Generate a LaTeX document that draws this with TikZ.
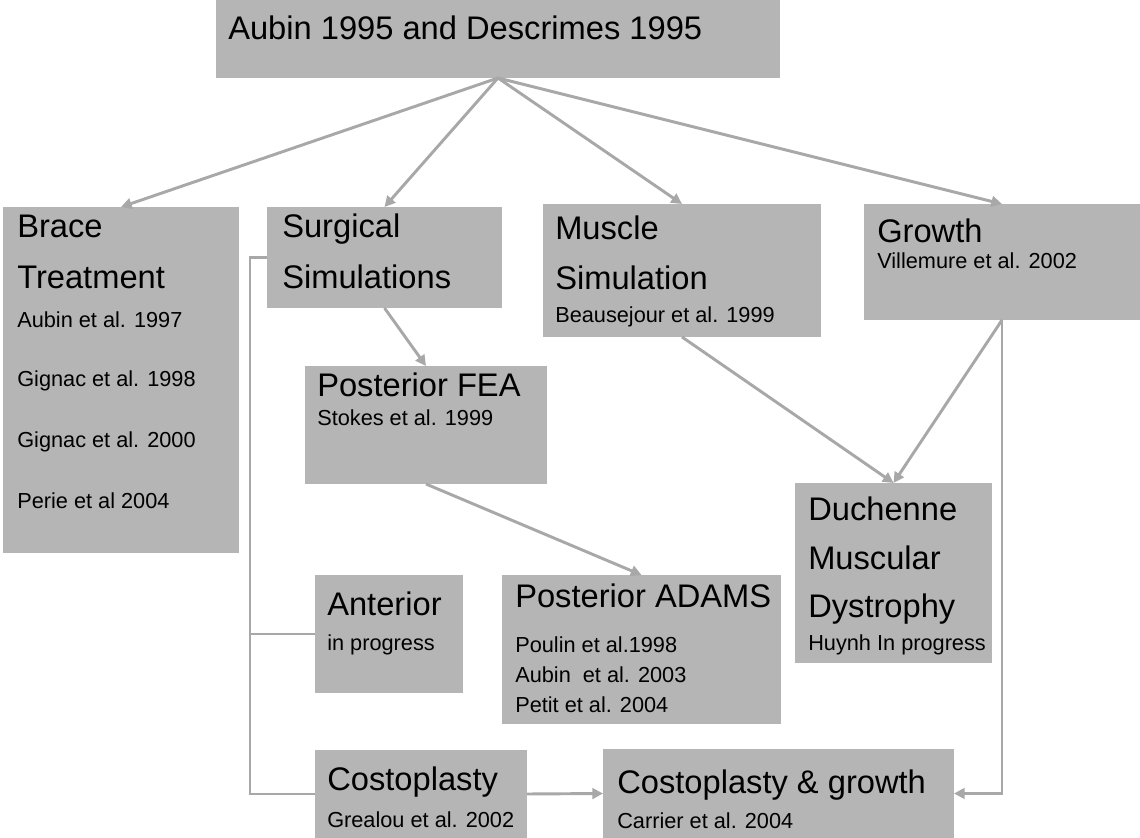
\documentclass[tikz,border=0pt]{standalone}
\usepackage{fontspec}
\setmainfont{Liberation Sans}
\usetikzlibrary{arrows.meta,calc,fit}
\definecolor{boxgray}{gray}{0.71}
\definecolor{linegray}{gray}{0.66}
\begin{document}
\begin{tikzpicture}[x=0.75pt,y=-0.75pt,
  box/.style={fill=boxgray,draw=none,inner sep=0pt,outer sep=0pt},
  hd/.style={anchor=base west,inner sep=0pt,font=\fontsize{24.5}{29}\selectfont},
  sb/.style={anchor=base west,inner sep=0pt,font=\fontsize{16.3}{19}\selectfont},
  conn/.style={draw=linegray,line width=2.2pt},
  arr/.style={conn,-{Triangle[length=8pt,width=8pt]}}]
\useasboundingbox (0,0) rectangle (1140,838);
% boxes
\node[box,fit={(216,0)(780,78)}] (top) {};
\node[box,fit={(3,207)(239,553)}] (brace) {};
\node[box,fit={(267,207)(502,308)}] (surg) {};
\node[box,fit={(543,204)(821,337)}] (musc) {};
\node[box,fit={(864,204)(1140,320)}] (grow) {};
\node[box,fit={(305,366)(547,484)}] (fea) {};
\node[box,fit={(315,575)(463,693)}] (ant) {};
\node[box,fit={(502,575)(781,724)}] (adams) {};
\node[box,fit={(795,483)(992,663)}] (duch) {};
\node[box,fit={(315,750)(527,838)}] (costo) {};
\node[box,fit={(603,749)(954,838)}] (cg) {};
% texts
\node[hd] (t0) at (228,40) {Aubin 1995 and Descrimes 1995};
\node[hd] (b1) at (17,238) {Brace};
\node[hd] (b2) at (17,289) {Treatment};
\node[sb] (b3) at (17,327) {Aubin et al. 1997};
\node[sb] (b4) at (17,386) {Gignac et al. 1998};
\node[sb] (b5) at (17,447) {Gignac et al. 2000};
\node[sb] (b6) at (17,508) {Perie et al 2004};
\node[hd] (s1) at (282,238) {Surgical};
\node[hd] (s2) at (282,289) {Simulations};
\node[hd] (m1) at (555,240) {Muscle};
\node[hd] (m2) at (555,290) {Simulation};
\node[sb] (m3) at (555,323) {Beausejour et al. 1999};
\node[hd] (g1) at (877,243) {Growth};
\node[sb] (g2) at (877,269) {Villemure et al. 2002};
\node[hd] (f1) at (317,397) {Posterior FEA};
\node[sb] (f2) at (317,425) {Stokes et al. 1999};
\node[hd] (a1) at (327,615) {Anterior};
\node[sb] (a2) at (327,650) {in progress};
\node[hd] (p1) at (515,607) {Posterior ADAMS};
\node[sb] (p2) at (515,652) {Poulin et al.1998};
\node[sb] (p3) at (515,682) {Aubin\ \ et al. 2003};
\node[sb] (p4) at (515,712) {Petit et al. 2004};
\node[hd] (d1) at (808,520) {Duchenne};
\node[hd] (d2) at (808,569) {Muscular};
\node[hd] (d3) at (808,617) {Dystrophy};
\node[sb] (d4) at (808,650) {Huynh In progress};
\node[hd] (c1) at (327,790) {Costoplasty};
\node[sb] (c2) at (327,827) {Grealou et al. 2002};
\node[hd] (k1) at (617,793) {Costoplasty \& growth};
\node[sb] (k2) at (617,828) {Carrier et al. 2004};
% connectors
\draw[arr] (top.south) -- (brace.north);
\draw[arr] (top.south) -- (surg.north);
\draw[arr] (top.south) -- (musc.north);
\draw[arr] (top.south) -- (grow.north);
\draw[arr] (surg.south) -- (fea.north);
\draw[arr] (fea.south) -- (adams.north);
\draw[arr] (musc.south) -- (duch.north);
\draw[arr] (grow.south) -- (duch.north);
\draw[arr] (grow.south) |- (cg.east);
\draw[arr] (costo.east) -- (cg.west);
\coordinate (bus) at ($(surg.west)+(-17,0)$);
\draw[conn] (surg.west) -- (bus) |- (costo.west);
\draw[conn] (bus |- ant.west) -- (ant.west);
\end{tikzpicture}
\end{document}
